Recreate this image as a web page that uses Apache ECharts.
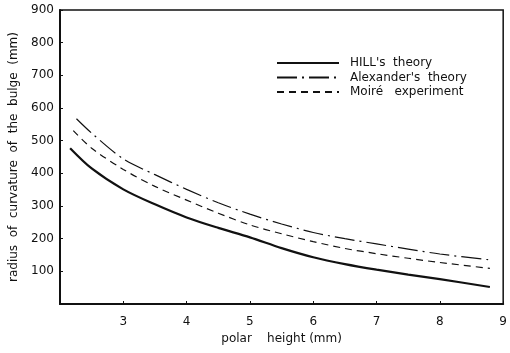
<!DOCTYPE html>
<html>
<head>
<meta charset="utf-8">
<script src="https://cdn.jsdelivr.net/npm/echarts@6/dist/echarts.min.js"></script>
<style>html,body{margin:0;padding:0;background:#fff}#c{width:510px;height:353px}</style>
</head>
<body>
<div id="c"></div>
<script>
var seriesNames = ["HILL's  theory", "Alexander's  theory", "Moiré   experiment"];
var hillX = [2.16, 2.5, 3, 3.5, 4, 4.5, 5, 5.5, 6, 6.5, 7, 7.5, 8, 8.79];
var hillY = [477, 415, 351, 305, 265, 233, 204, 171, 143, 122, 105, 90, 76, 52];
var alexX = [2.26, 2.5, 3, 3.5, 4, 4.5, 5, 5.5, 6, 6.5, 7, 7.5, 8, 8.79];
var alexY = [567, 523, 444, 396, 351, 310, 275, 245, 219, 200, 184, 168, 153, 135];
var moireX = [2.21, 2.5, 3, 3.5, 4, 4.5, 5, 5.5, 6, 6.5, 7, 7.5, 8, 8.79];
var moireY = [531, 477, 412, 360, 318, 278, 242, 215, 191, 170, 154, 140, 127, 109];
var xTicks = [2, 3, 4, 5, 6, 7, 8, 9];
var yTicks = [0, 100, 200, 300, 400, 500, 600, 700, 800, 900];

function pairs(xs, ys) { return xs.map(function (x, i) { return [x, ys[i]]; }); }

var font = 'DejaVu Sans';
var chart = echarts.init(document.getElementById('c'), null, { renderer: 'canvas' });
chart.setOption({
  animation: false,
  backgroundColor: '#fff',
  grid: { left: 57, right: 3, top: 10, bottom: 49, show: true, borderColor: '#111', borderWidth: 1.5, backgroundColor: 'transparent' },
  legend: {
    orient: 'vertical', left: 276, top: 57, itemWidth: 62, itemHeight: 12, itemGap: 2.5,
    padding: 0,
    data: seriesNames,
    itemStyle: { opacity: 0, borderWidth: 0 },
    textStyle: { fontFamily: font, fontSize: 12, color: '#111', padding: [0, 0, 0, 6] }
  },
  xAxis: {
    type: 'value', min: xTicks[0], max: xTicks[xTicks.length - 1], interval: 1,
    name: 'polar    height (mm)', nameLocation: 'middle', nameGap: 23,
    nameTextStyle: { fontFamily: font, fontSize: 12, color: '#111' },
    axisLine: { show: true, lineStyle: { color: '#111', width: 2 } },
    axisTick: { show: true, inside: true, length: 3, lineStyle: { color: '#111' } },
    axisLabel: { showMinLabel: false, fontFamily: font, fontSize: 12, color: '#111', margin: 12 },
    splitLine: { show: false }
  },
  yAxis: {
    type: 'value', min: yTicks[0], max: yTicks[yTicks.length - 1], interval: 100,
    name: 'radius  of  curvature  of  the  bulge  (mm)', nameLocation: 'middle', nameGap: 40,
    nameTextStyle: { fontFamily: font, fontSize: 12, color: '#111' },
    axisLine: { show: true, lineStyle: { color: '#111', width: 2 } },
    axisTick: { show: true, inside: true, length: 3, lineStyle: { color: '#111' } },
    axisLabel: { showMinLabel: false, fontFamily: font, fontSize: 12, color: '#111', margin: 6 },
    splitLine: { show: false }
  },
  series: [
    { name: seriesNames[0], type: 'line', smooth: 0.3, symbol: 'none', data: pairs(hillX, hillY),
      lineStyle: { color: '#111', width: 2.2, type: 'solid' }, itemStyle: { color: '#111' } },
    { name: seriesNames[1], type: 'line', smooth: 0.3, symbol: 'none', data: pairs(alexX, alexY),
      lineStyle: { color: '#111', width: 1.2, type: [20, 5, 2, 5] }, itemStyle: { color: '#111' } },
    { name: seriesNames[2], type: 'line', smooth: 0.3, symbol: 'none', data: pairs(moireX, moireY),
      lineStyle: { color: '#111', width: 1.2, type: [7, 5] }, itemStyle: { color: '#111' } }
  ]
});
</script>
</body>
</html>
